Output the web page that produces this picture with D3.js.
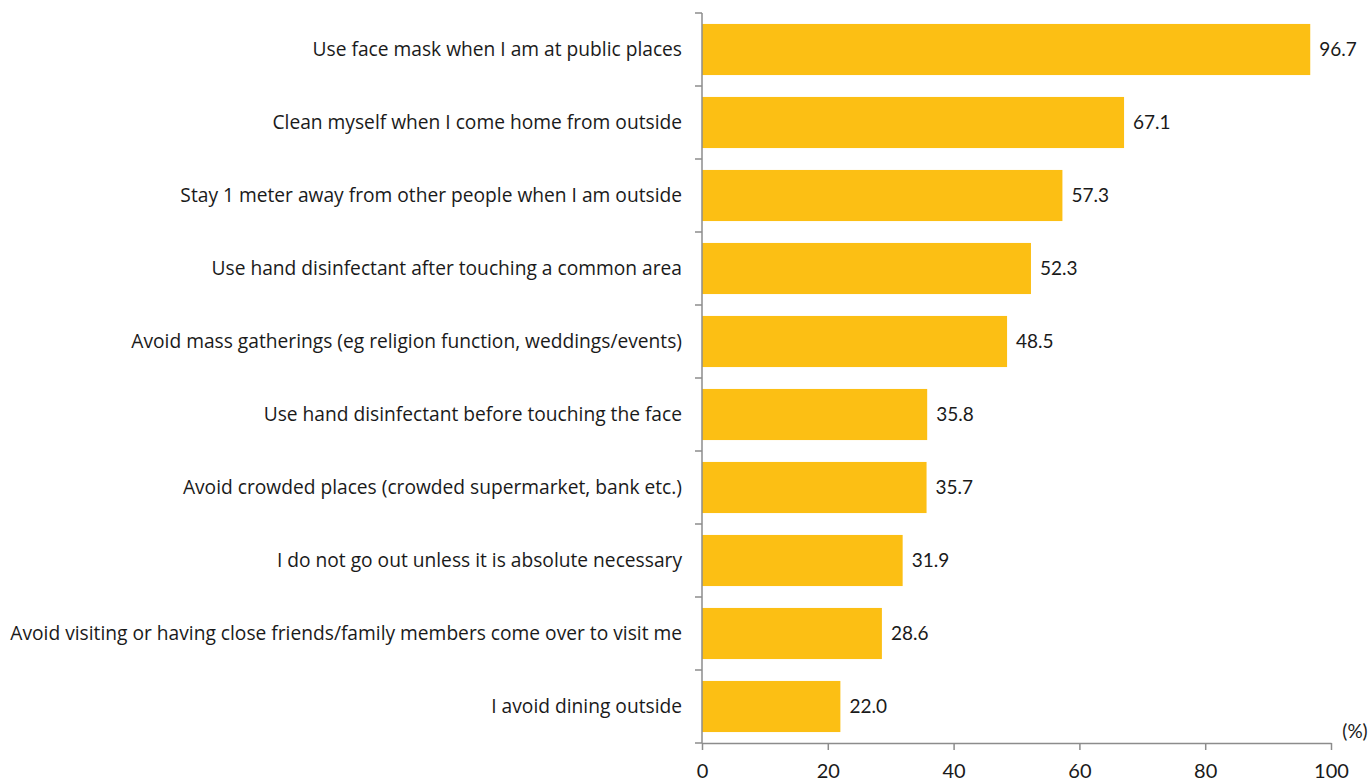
<!DOCTYPE html>
<html>
<head>
<meta charset="utf-8">
<script src="https://cdn.jsdelivr.net/npm/d3@7"></script>
<style>
  body { margin: 0; background: #fff; }
  text { font-family: Lato, "Open Sans", sans-serif; fill: #1a1a1a; }
</style>
</head>
<body>
<svg id="chart" width="1369" height="781"></svg>
<script>
// categories, top to bottom
const behaviours = [
    'Use face mask when I am at public places',
    'Clean myself when I come home from outside',
    'Stay 1 meter away from other people when I am outside',
    'Use hand disinfectant after touching a common area',
    'Avoid mass gatherings (eg religion function, weddings/events)',
    'Use hand disinfectant before touching the face',
    'Avoid crowded places (crowded supermarket, bank etc.)',
    'I do not go out unless it is absolute necessary',
    'Avoid visiting or having close friends/family members come over to visit me',
    'I avoid dining outside'
];
const percents = [96.7, 67.1, 57.3, 52.3, 48.5, 35.8, 35.7, 31.9, 28.6, 22.0];
const xTicks = [0, 20, 40, 60, 80, 100];

const svg = d3.select('#chart');
const plotLeft = 702, plotRight = 1331, plotTop = 13, plotBottom = 743;
const axisColor = '#8c8c8c';

const x = d3.scaleLinear().domain([0, 100]).range([plotLeft, plotRight]);
const y = d3.scaleBand().domain(behaviours).range([plotTop, plotBottom]).paddingInner(0.3).paddingOuter(0.15);

// bars
svg.selectAll('rect.bar')
    .data(behaviours)
    .enter().append('rect')
    .attr('class', 'bar')
    .attr('x', x(0))
    .attr('y', d => y(d))
    .attr('width', (d, i) => x(percents[i]) - x(0))
    .attr('height', y.bandwidth())
    .attr('fill', '#fcbf14');

// value labels
svg.selectAll('text.val')
    .data(behaviours)
    .enter().append('text')
    .attr('class', 'val')
    .attr('x', (d, i) => x(percents[i]) + 9)
    .attr('y', d => y(d) + y.bandwidth() / 2)
    .attr('dy', '0.35em')
    .style('font-size', '19px')
    .text((d, i) => percents[i].toFixed(1));

// category labels
svg.selectAll('text.cat')
    .data(behaviours)
    .enter().append('text')
    .attr('class', 'cat')
    .attr('x', plotLeft - 20)
    .attr('y', d => y(d) + y.bandwidth() / 2)
    .attr('dy', '0.35em')
    .attr('text-anchor', 'end')
    .style('font-family', '"Open Sans", sans-serif')
    .style('font-size', '19.2px')
    .text(d => d);

// y axis line + category boundary ticks
const step = (plotBottom - plotTop) / behaviours.length;
svg.append('line')
    .attr('x1', plotLeft).attr('x2', plotLeft)
    .attr('y1', plotTop).attr('y2', plotBottom)
    .attr('stroke', axisColor).attr('stroke-width', 1.5);
svg.selectAll('line.ytick')
    .data(d3.range(behaviours.length + 1))
    .enter().append('line')
    .attr('class', 'ytick')
    .attr('x1', plotLeft - 7).attr('x2', plotLeft)
    .attr('y1', i => plotTop + i * step).attr('y2', i => plotTop + i * step)
    .attr('stroke', axisColor).attr('stroke-width', 1.5);

// x axis
const xAxis = svg.append('g')
    .attr('transform', `translate(0,${plotBottom})`)
    .call(d3.axisBottom(x).tickValues(xTicks).tickSize(7).tickPadding(14).tickSizeOuter(0));
xAxis.select('.domain').attr('stroke', axisColor).attr('stroke-width', 1.5);
xAxis.selectAll('.tick line').attr('stroke', axisColor).attr('stroke-width', 1.5);
xAxis.selectAll('.tick text')
    .style('font-size', '20px')
    .style('font-family', 'Lato, "Open Sans", sans-serif')
    .attr('fill', '#1a1a1a');

svg.append('text')
    .attr('x', 1355)
    .attr('y', 731)
    .attr('dy', '0.35em')
    .attr('text-anchor', 'middle')
    .style('font-size', '19px')
    .text('(%)');
</script>
</body>
</html>
